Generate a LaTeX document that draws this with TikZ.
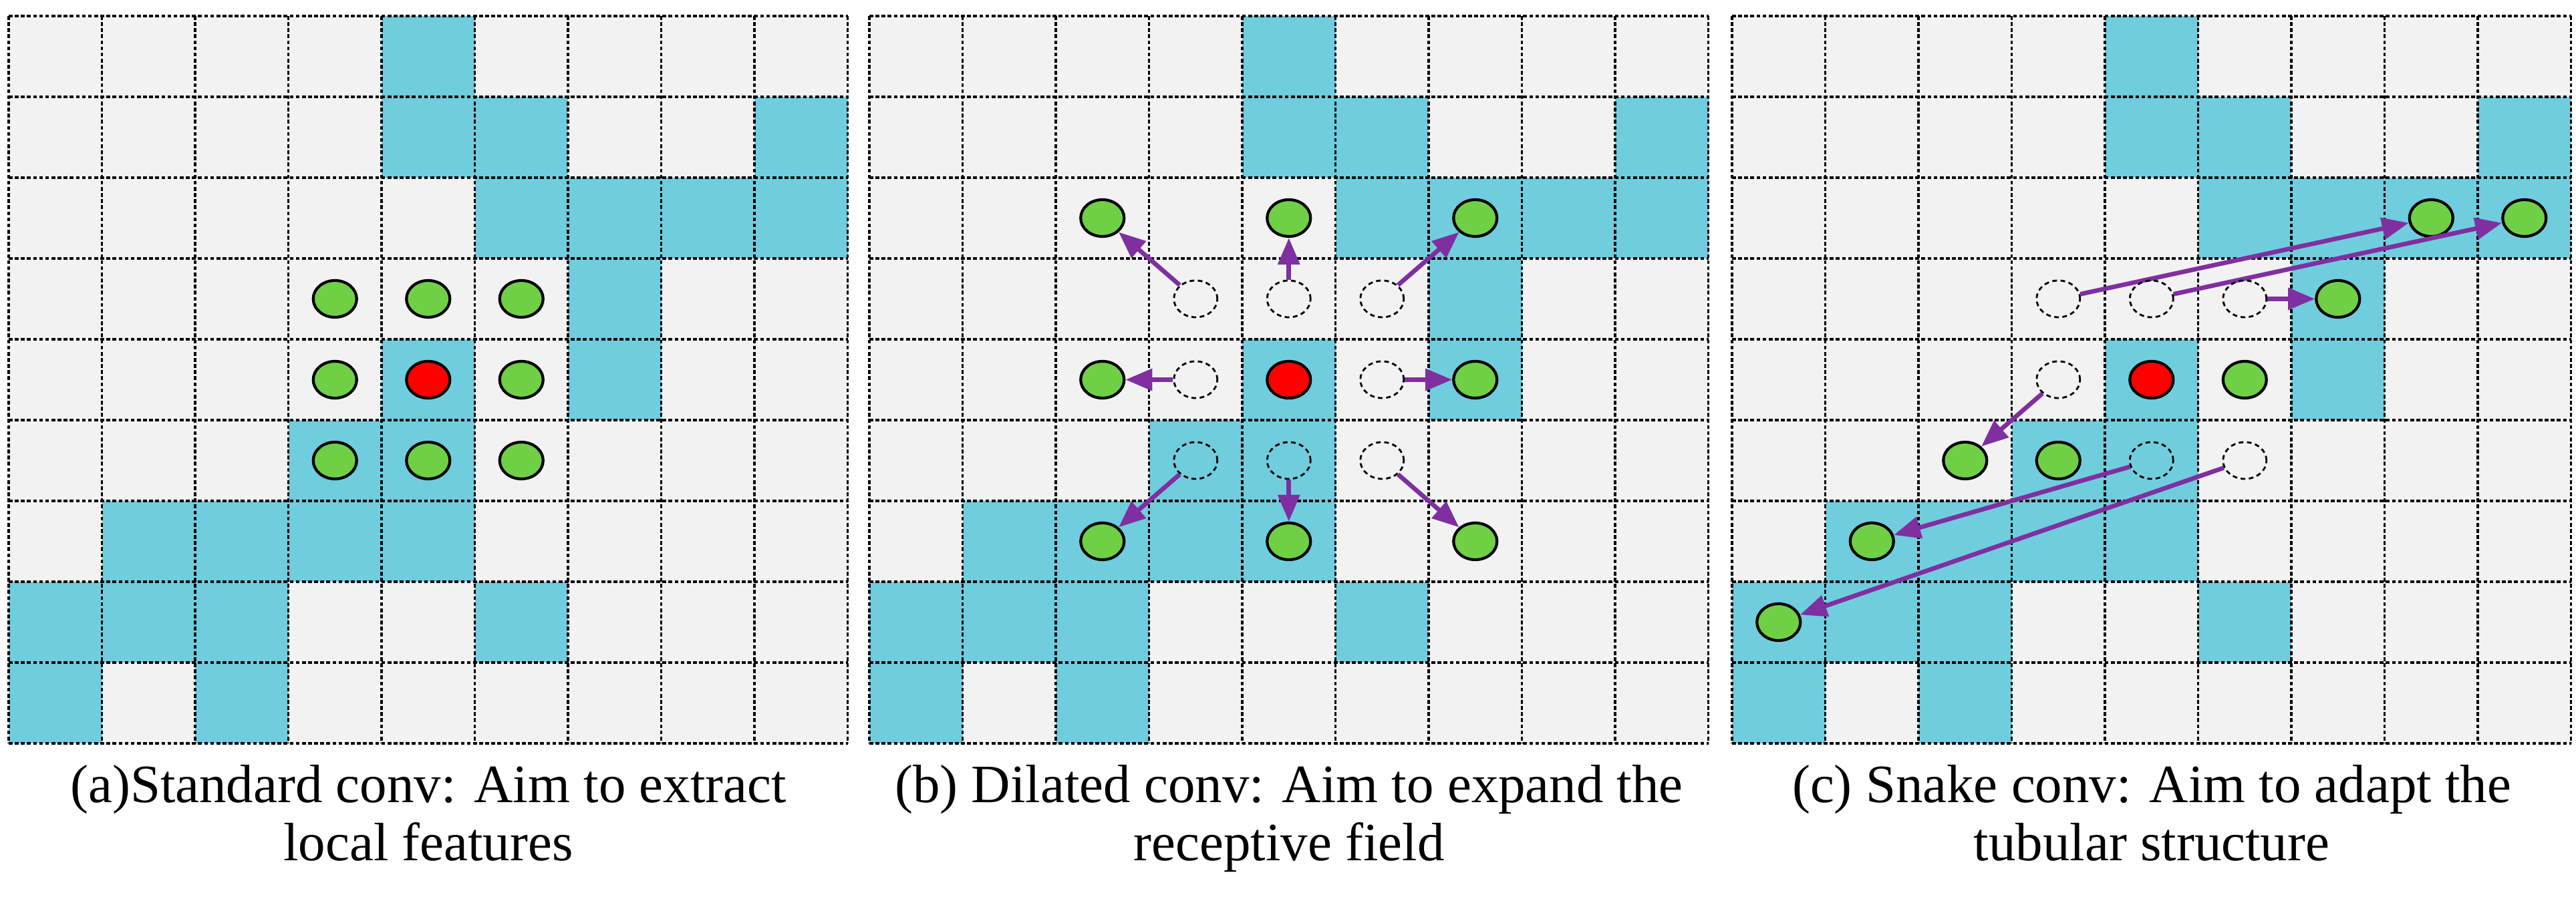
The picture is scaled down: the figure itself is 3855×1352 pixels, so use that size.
\documentclass[tikz,border=0pt]{standalone}
\usepackage{fontspec}
\setmainfont{Liberation Serif}
\usetikzlibrary{arrows.meta,shapes.geometric}
\definecolor{cy}{HTML}{70CDDE}
\definecolor{bg}{HTML}{F2F2F2}
\definecolor{gr}{HTML}{6FD046}
\definecolor{pu}{HTML}{7F2FA0}
\tikzset{
  gl/.style={line width=0.9pt, dash pattern=on 1.6pt off 1pt},
  pt/.style={ellipse, minimum width=0.65cm, minimum height=0.55cm, inner sep=0pt, line width=1.2pt, draw=black},
  g/.style={pt, fill=gr},
  r/.style={pt, fill=red},
  d/.style={pt, line width=0.8pt, dash pattern=on 2pt off 1.5pt},
  ar/.style={draw=pu, line width=1.9pt, -{Triangle[length=0.4cm,width=0.32cm]}},
  capt/.style={font=\fontsize{23}{24.5}\selectfont, align=center, anchor=base}
}
\begin{document}
\begin{tikzpicture}[x=0.01cm,y=-0.01cm]
\useasboundingbox (0,0) rectangle (3855,1352);
\foreach \p/\X in {a/13,b/1301,c/2592}{
  \fill[bg] (\X,24) rectangle ++(1255.5,1089);
  \foreach \r/\c in {0/4,1/4,1/5,1/8,2/5,2/6,2/7,2/8,3/6,4/4,4/6,5/3,5/4,6/1,6/2,6/3,6/4,7/0,7/1,7/2,7/5,8/0,8/2}
    \fill[cy] ({\X+\c*139.5},{24+\r*121}) rectangle ++(139.5,121);
  \foreach \i in {0,...,9}{
    \draw[gl] ({\X+\i*139.5},24) -- ++(0,1089);
    \draw[gl] (\X,{24+\i*121}) -- ++(1255.5,0);
  }
  \foreach \r in {0,...,8}\foreach \c in {0,...,8}
    \coordinate (\p-\r-\c) at ({\X+(\c+0.5)*139.5},{24+(\r+0.5)*121});
}
% captions (base = last line)
\node[capt] (ca) at (641,1288) {(a)Standard conv: Aim to extract\\local features};
\node[capt] (cb) at (1929,1288) {(b) Dilated conv: Aim to expand the\\receptive field};
\node[capt] (cc) at (3220,1288) {(c) Snake conv: Aim to adapt the\\tubular structure};
% panel a
\foreach \r/\c in {3/3,3/4,3/5,4/3,4/5,5/3,5/4,5/5} \node[g] (ag\r\c) at (a-\r-\c) {};
\node[r] (ar) at (a-4-4) {};
% panel b
\node[r] (br) at (b-4-4) {};
\foreach \r/\c/\R/\C in {3/3/2/2,3/4/2/4,3/5/2/6,4/3/4/2,4/5/4/6,5/3/6/2,5/4/6/4,5/5/6/6}{
  \node[d] (bd\r\c) at (b-\r-\c) {};
  \node[g] (bg\R\C) at (b-\R-\C) {};
  \draw[ar] (bd\r\c) -- (bg\R\C);
}
% panel c
\node[r] (cr) at (c-4-4) {};
\node[g] (cg45) at (c-4-5) {};
\node[g] (cg53) at (c-5-3) {};
\foreach \r/\c/\R/\C in {3/3/2/7,3/4/2/8,3/5/3/6,4/3/5/2,5/4/6/1,5/5/7/0}{
  \node[d] (cd\r\c) at (c-\r-\c) {};
  \node[g] (cg\R\C) at (c-\R-\C) {};
  \draw[ar] (cd\r\c) -- (cg\R\C);
}
\end{tikzpicture}
\end{document}
